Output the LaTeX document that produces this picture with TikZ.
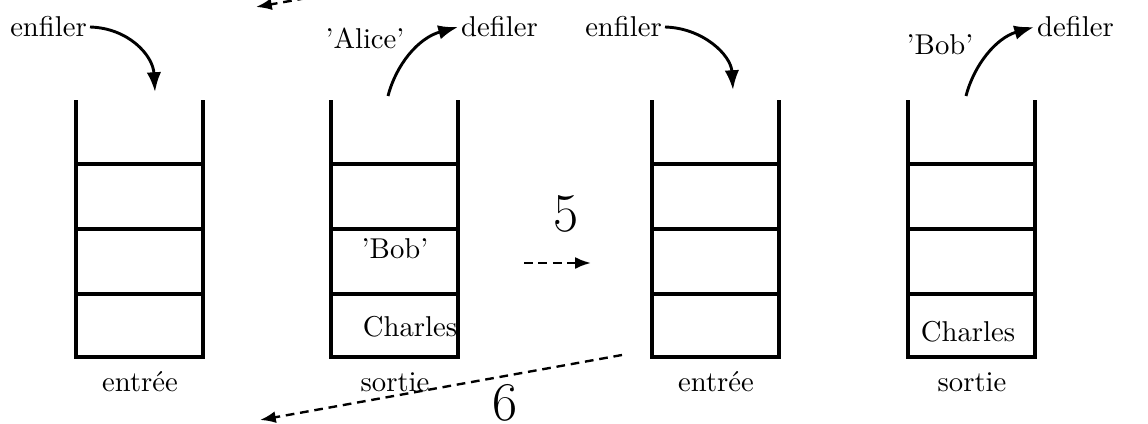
\documentclass[tikz,border=0pt]{standalone}
\usetikzlibrary{arrows.meta}
\begin{document}
\begin{tikzpicture}[x=0.38pt,y=-0.38pt,
  wall/.style={line width=1.3pt},
  move/.style={line width=1.1pt,-{Latex[length=7.5pt,width=5.5pt]}},
  jump/.style={line width=0.9pt,dash pattern=on 3.3pt off 2.2pt,-{Latex[length=6pt,width=4.5pt]}},
  lbl/.style={inner sep=1pt,font=\fontsize{10.9pt}{13pt}\selectfont},
  big/.style={inner sep=0pt,font=\huge}]
\useasboundingbox (0,0) rectangle (1148,424);
\clip (0,0) rectangle (1148,424);

% a queue: open at the top, four cells
\newcommand{\queuebox}[1]{%
  \draw[wall] (#1,100) -- (#1,357) -- ++(127,0) -- ++(0,-257);
  \foreach \yy in {164,229,294} \draw[wall] (#1,\yy) -- ++(127,0);
}
\queuebox{76}
\queuebox{331}
\queuebox{652}
\queuebox{908}

% labels under the queues
\node[lbl] (e1) at (140,382) {entrée};
\node[lbl] (s1) at (395,382) {sortie};
\node[lbl] (e2) at (716,382) {entrée};
\node[lbl] (s2) at (972,382) {sortie};

% contents
\node[lbl] (bob1) at (395,249) {'Bob'};
\node[lbl] (ch1) at (410,327) {Charles};
\node[lbl] (ch2) at (968,332) {Charles};

% enqueue / dequeue arrows
\node[lbl,anchor=east] (enf1) at (90,27) {enfiler};
\coordinate (in1) at (155,92);
\draw[move] (enf1.east) .. controls (128,28) and (153,55) .. (in1);

\node[lbl] (al) at (365,38) {'Alice'};
\node[lbl,anchor=west] (def1) at (458,27) {defiler};
\coordinate (out1) at (388,96);
\draw[move] (out1) .. controls (396,65) and (418,38) .. (def1.west);

\node[lbl,anchor=east] (enf2) at (665,27) {enfiler};
\coordinate (in2) at (733,90);
\draw[move] (enf2.east) .. controls (703,28) and (731,55) .. (in2);

\node[lbl] (bob2) at (940,45) {'Bob'};
\node[lbl,anchor=west] (def2) at (1034,27) {defiler};
\coordinate (out2) at (966,96);
\draw[move] (out2) .. controls (974,65) and (996,38) .. (def2.west);

% steps
\node[big] (five) at (566,214) {5};
\coordinate (a5) at (524,263);
\coordinate (b5) at (591,263);
\draw[jump] (a5) -- (b5);

\node[big] (six) at (505,403) {6};
\coordinate (a6) at (622,355);
\coordinate (b6) at (260,420);
\draw[jump] (a6) -- (b6);

\coordinate (a7) at (420,-22);
\coordinate (b7) at (256,7);
\draw[jump] (a7) -- (b7);
\end{tikzpicture}
\end{document}
